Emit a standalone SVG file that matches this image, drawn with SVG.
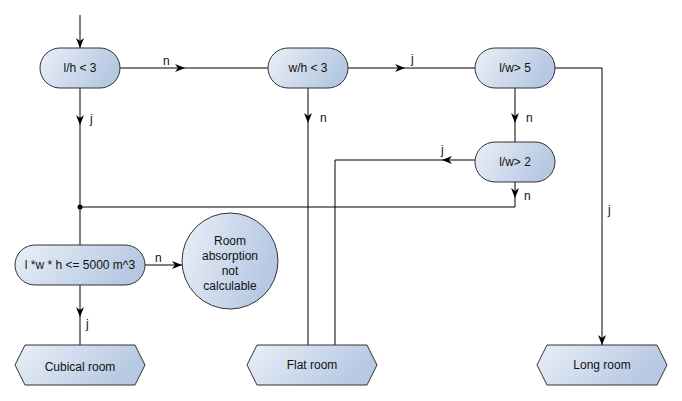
<svg xmlns="http://www.w3.org/2000/svg" width="682" height="401" viewBox="0 0 682 401">
<defs>
<linearGradient id="g" x1="0" y1="0" x2="1" y2="0.3">
<stop offset="0" stop-color="#eaf0f8"/>
<stop offset="1" stop-color="#b6c8e2"/>
</linearGradient>
<marker id="a" viewBox="0 0 10 8" refX="10" refY="4" markerWidth="10" markerHeight="8" markerUnits="userSpaceOnUse" orient="auto">
<path d="M0,0 L10,4 L0,8 L3,4 Z" fill="#000"/>
</marker>
<style>
.n{fill:url(#g);stroke:#333;stroke-width:1}
.t{font-family:"Liberation Sans",Arial,sans-serif;font-size:12px;fill:#111;text-anchor:middle}
.l{font-family:"Liberation Sans",Arial,sans-serif;font-size:12px;fill:#111}
.e{fill:none;stroke:#000;stroke-width:1}
.m{marker-mid:url(#a)}
.x{marker-end:url(#a)}
</style>
</defs>
<rect width="682" height="401" fill="#fff"/>
<g id="connectors">
<path class="e x" d="M80,15 L80,48"/>
<path class="e m" d="M120,68 L185,68 L268,68"/>
<path class="e m" d="M80,88 L80,125 L80,245"/>
<path class="e m" d="M348,68 L405,68 L475,68"/>
<path class="e m" d="M308,88 L308,123 L308,345"/>
<path class="e x" d="M555,68 L602,68 L602,345"/>
<path class="e m" d="M515,88 L515,123 L515,142"/>
<path class="e x" d="M475,160 L442,160"/>
<path class="e" d="M442,160 L335,160 L335,345"/>
<path class="e x" d="M515,182 L515,198"/>
<path class="e" d="M515,198 L515,207 L80,207"/>
<path class="e x" d="M145,265 L182,265"/>
<path class="e m" d="M80,285 L80,317 L80,345"/>
<circle cx="80" cy="207" r="2.5" fill="#000"/>
<text class="l" x="163" y="65">n</text>
<text class="l" x="90" y="123">j</text>
<text class="l" x="411" y="63">j</text>
<text class="l" x="320" y="122">n</text>
<text class="l" x="526" y="122">n</text>
<text class="l" x="441" y="154">j</text>
<text class="l" x="524" y="200">n</text>
<text class="l" x="155" y="262">n</text>
<text class="l" x="86" y="328">j</text>
<text class="l" x="608" y="214">j</text>
</g>
<g id="n1"><rect class="n" x="40" y="48" width="80" height="40" rx="20"/><text class="t" x="80" y="72">l/h &lt; 3</text></g>
<g id="n2"><rect class="n" x="268" y="48" width="80" height="40" rx="20"/><text class="t" x="308" y="72">w/h &lt; 3</text></g>
<g id="n3"><rect class="n" x="475" y="48" width="80" height="40" rx="20"/><text class="t" x="515" y="72">l/w&gt; 5</text></g>
<g id="n4"><rect class="n" x="475" y="142" width="80" height="40" rx="20"/><text class="t" x="515" y="166">l/w&gt; 2</text></g>
<g id="n5"><rect class="n" x="15" y="245" width="130" height="40" rx="20"/><text class="t" x="80" y="269">l *w * h &lt;= 5000 m^3</text></g>
<g id="n6"><circle class="n" cx="230" cy="261" r="48"/>
<text class="t" x="230" y="245">Room</text>
<text class="t" x="230" y="260">absorption</text>
<text class="t" x="230" y="275">not</text>
<text class="t" x="230" y="290">calculable</text></g>
<g id="n7"><path class="n" d="M15,365 L25,345 L135,345 L145,365 L135,385 L25,385 Z"/><text class="t" x="80" y="371">Cubical room</text></g>
<g id="n8"><path class="n" d="M247,365 L257,345 L367,345 L377,365 L367,385 L257,385 Z"/><text class="t" x="312" y="369">Flat room</text></g>
<g id="n9"><path class="n" d="M537,365 L547,345 L657,345 L667,365 L657,385 L547,385 Z"/><text class="t" x="602" y="369">Long room</text></g>
</svg>
